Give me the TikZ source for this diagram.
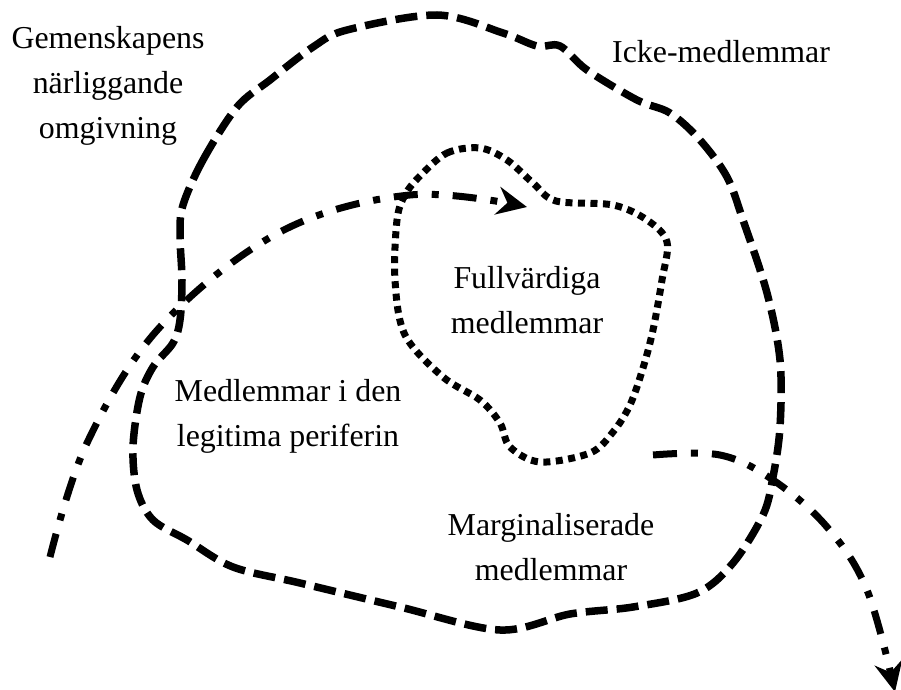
\documentclass[tikz,border=0pt]{standalone}
\usepackage{fontspec}
\setmainfont{Liberation Serif}
\usetikzlibrary{arrows.meta}
\tikzset{
  lbl/.style={align=center, inner sep=0pt, font=\fontsize{32}{45}\selectfont},
  outerloop/.style={line width=7.5bp, dash pattern=on 22bp off 9bp},
  innerloop/.style={line width=7bp, dash pattern=on 7bp off 5.5bp},
  path/.style={line width=7bp, dash pattern=on 24bp off 14bp on 7bp off 14bp,
    -{Stealth[length=30bp,width=28bp,inset=10bp]}},
}
\begin{document}
\begin{tikzpicture}[x=1bp,y=-1bp]
\useasboundingbox (0,0) rectangle (901,690);
% outer community boundary
\draw[outerloop] plot[smooth cycle, tension=0.55] coordinates {
 (183,205) (203,160) (237,107) (270,80) (313,47) (347,30) (437,15) (503,33)
 (537,46) (560,46) (587,70) (637,100) (670,113) (700,140) (727,177) (743,220)
 (767,293) (780,360) (780,427) (773,477) (763,515) (733,563) (697,593)
 (633,607) (570,614) (500,630) (400,607) (300,583) (233,567) (187,540)
 (153,520) (137,490) (133,447) (140,397) (153,367) (173,343) (180,320)
 (182,280) (180,235)};
% inner (full members) boundary
\draw[innerloop] plot[smooth cycle, tension=0.55] coordinates {
 (420,176) (447,153) (480,148) (507,160) (533,183) (556,201) (613,205)
 (647,220) (667,242) (662,280) (653,330) (643,368) (630,405) (613,432)
 (590,453) (540,462) (510,447) (500,423) (480,400) (443,377) (405,335)
 (395,280) (397,220) (405,195)};
% trajectories
\coordinate (s1) at (50,557);
\coordinate (e1) at (527,207);
\coordinate (s2) at (653,455);
\coordinate (e2) at (895,692);
\draw[path] plot[smooth, tension=0.6] coordinates {
 (s1) (87,443) (160,327) (280,232) (410,195) (e1)};
\draw[path] plot[smooth, tension=0.6] coordinates {
 (s2) (720,455) (773,480) (827,527) (867,590) (e2)};
% labels
\node[lbl] (omg) at (108,86) {Gemenskapens\\närliggande\\omgivning};
\node[lbl] (icke) at (721,52) {Icke-medlemmar};
\node[lbl] (full) at (527,300) {Fullvärdiga\\medlemmar};
\node[lbl] (legit) at (288,416) {Medlemmar i den\\legitima periferin};
\node[lbl] (marg) at (551,547) {Marginaliserade\\medlemmar};
\end{tikzpicture}
\end{document}
